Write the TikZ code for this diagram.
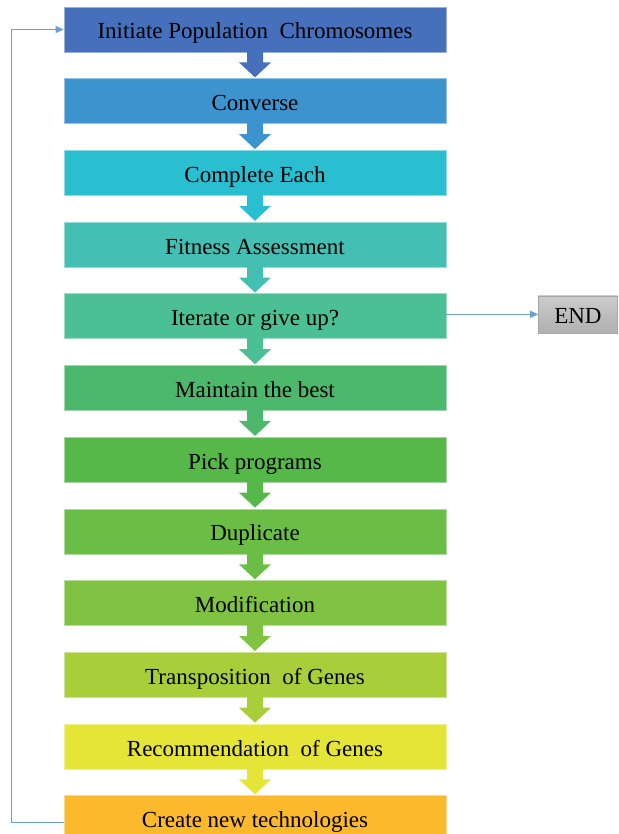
\documentclass[tikz,border=0pt]{standalone}
\usepackage{fontspec}
\setmainfont{Liberation Serif}
\usetikzlibrary{arrows.meta}

\definecolor{c1}{HTML}{4670BB}
\definecolor{c2}{HTML}{3C93CE}
\definecolor{c3}{HTML}{2ABFD0}
\definecolor{c4}{HTML}{44BFB3}
\definecolor{c5}{HTML}{4AC094}
\definecolor{c6}{HTML}{4CB86B}
\definecolor{c7}{HTML}{56B849}
\definecolor{c8}{HTML}{6BBE45}
\definecolor{c9}{HTML}{80C342}
\definecolor{c10}{HTML}{A8CE3A}
\definecolor{c11}{HTML}{E5E537}
\definecolor{c12}{HTML}{FBB92B}
\definecolor{flowline}{HTML}{6A9FD8}

\begin{document}
\begin{tikzpicture}[x=1pt,y=-1pt]
		\tikzstyle{stage}=[minimum width=382pt,minimum height=45pt,inner sep=0pt,text height=22pt,text depth=3pt,line width=0.8pt,font=\fontsize{23}{27}\selectfont]
		\tikzstyle{endbox}=[minimum width=79pt,minimum height=37pt,inner sep=0pt,text height=21pt,text depth=3pt,draw=black!35,top color=black!20,bottom color=black!31,font=\fontsize{23}{27}\selectfont]
		\tikzstyle{flow}=[flowline,line width=0.8pt,-{Triangle[length=8pt,width=7pt]}]
		\useasboundingbox (0,0) rectangle (618,834);
		\clip (0,0) rectangle (618,834);
		% process boxes
		\foreach \i/\t in {1/Initiate Population\ \ Chromosomes,2/Converse,3/Complete Each,4/Fitness Assessment,
			5/Iterate or give up?,6/Maintain the best,7/Pick programs,8/Duplicate,9/Modification,
			10/Transposition\ \ of Genes,11/Recommendation\ \ of Genes,12/Create new technologies}
			\node [stage,fill=c\i,draw=c\i!55!white] (b\i) at (255,{29.5+71.7*(\i-1)}) {\t};
		% block arrows
		\foreach \i in {1,...,11}
			\fill [c\i] ([xshift=-8pt,yshift=1pt]b\i.south) -- ++(0,11) -- ++(-8,0) -- ++(16,15) -- ++(16,-15) -- ++(-8,0) -- ++(0,-11) -- cycle;
		% stop branch
		\node [endbox] (end) at ([xshift=131.5pt,yshift=2pt]b5.east) {END};
		\draw [flow] ([yshift=2pt]b5.east) -- (end.west);
		% loop back
		\coordinate (turn) at (11.5,29.5);
		\draw [flow] ([yshift=-4.5pt]b12.west) -| (turn) |- (b1.west);
\end{tikzpicture}
\end{document}
